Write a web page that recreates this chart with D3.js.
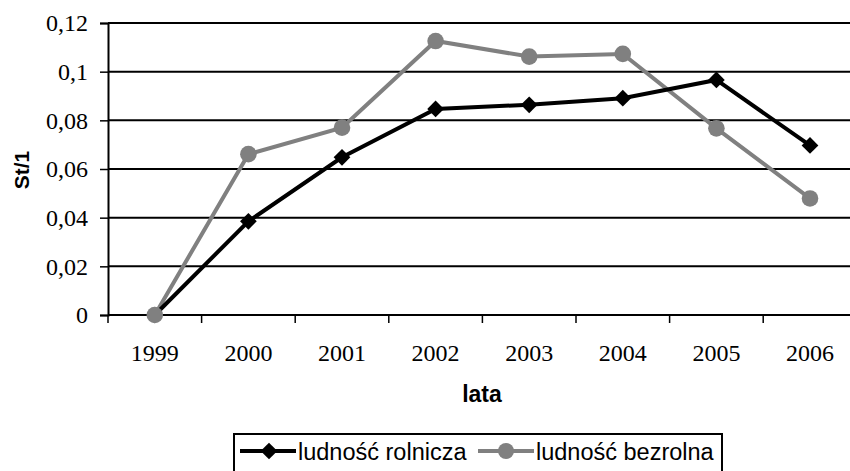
<html>
<head>
<meta charset="utf-8">
<script src="https://cdn.jsdelivr.net/npm/d3@7"></script>
<style>
body { margin: 0; background: white; }
.tick text { font-family: "Liberation Serif", "Times New Roman", serif; }
</style>
</head>
<body>
<script>
var years = ["1999","2000","2001","2002","2003","2004","2005","2006"];
var rolnicza = [0, 0.0385, 0.0648, 0.0847, 0.0864, 0.0891, 0.0966, 0.0697];
var bezrolna = [0, 0.0661, 0.0770, 0.1126, 0.1062, 0.1073, 0.0767, 0.0479];
var yTicks = [0, 0.02, 0.04, 0.06, 0.08, 0.1, 0.12];
var seriesNames = ["ludność rolnicza", "ludność bezrolna"];

var width = 850, height = 471;
var plotLeft = 108, plotTop = 23, plotBottom = 315;

var svg = d3.select("body").append("svg").attr("width", width).attr("height", height).style("background", "white");

var x = d3.scaleBand().domain(years).range([plotLeft, plotLeft + 8 * 93.6]);
var y = d3.scaleLinear().domain([0, 0.12]).range([plotBottom, plotTop]);

var fmt = function(d) { return String(d).replace(".", ","); };

// gridlines
svg.selectAll(".grid").data(yTicks).enter().append("line")
  .attr("x1", plotLeft).attr("x2", width)
  .attr("y1", function(d) { return y(d); }).attr("y2", function(d) { return y(d); })
  .attr("stroke", "#000").attr("stroke-width", 2);

// y axis
var yAxis = svg.append("g").attr("transform", "translate(" + plotLeft + ",0)")
  .call(d3.axisLeft(y).tickValues(yTicks).tickFormat(fmt).tickSize(8).tickPadding(12));
yAxis.attr("font-family", null);
yAxis.select(".domain").attr("stroke-width", 2);
yAxis.selectAll(".tick line").attr("stroke-width", 1.5);
yAxis.selectAll("text").style("font-family", "'Liberation Serif', 'Times New Roman', serif").attr("font-size", "24px").attr("fill", "#000");

// x axis
var xAxis = svg.append("g").attr("transform", "translate(0," + plotBottom + ")")
  .call(d3.axisBottom(x).tickSize(0).tickPadding(29));
xAxis.attr("font-family", null);
xAxis.select(".domain").remove();
xAxis.selectAll("text").style("font-family", "'Liberation Serif', 'Times New Roman', serif").attr("font-size", "24px").attr("fill", "#000");
svg.append("line").attr("x1", plotLeft).attr("x2", width).attr("y1", plotBottom).attr("y2", plotBottom)
  .attr("stroke", "#000").attr("stroke-width", 2);
svg.selectAll(".xtick").data(years.concat(["end"])).enter().append("line")
  .attr("x1", function(d, i) { return plotLeft + i * x.bandwidth(); })
  .attr("x2", function(d, i) { return plotLeft + i * x.bandwidth(); })
  .attr("y1", plotBottom).attr("y2", plotBottom + 8)
  .attr("stroke", "#000").attr("stroke-width", 1.5);

// axis titles
svg.append("text").attr("x", 482).attr("y", 402).attr("text-anchor", "middle")
  .attr("font-family", "Liberation Sans").attr("font-weight", "bold").attr("font-size", "23px").text("lata");
svg.append("text").attr("transform", "translate(29,170) rotate(-90)").attr("text-anchor", "middle")
  .attr("font-family", "Liberation Sans").attr("font-weight", "bold").attr("font-size", "21px").text("St/1");

var line = d3.line()
  .x(function(d, i) { return x(years[i]) + x.bandwidth() / 2; })
  .y(function(d) { return y(d); });

svg.append("path").datum(bezrolna).attr("d", line)
  .attr("fill", "none").attr("stroke", "#808080").attr("stroke-width", 4);
svg.append("path").datum(rolnicza).attr("d", line)
  .attr("fill", "none").attr("stroke", "#000").attr("stroke-width", 4);

var diamond = d3.symbol().type(d3.symbolSquare).size(140);

svg.selectAll(".dia").data(rolnicza).enter().append("path")
  .attr("d", diamond)
  .attr("transform", function(d, i) { return "translate(" + (x(years[i]) + x.bandwidth() / 2) + "," + y(d) + ") rotate(45)"; })
  .attr("fill", "#000");
svg.selectAll(".dot").data(bezrolna).enter().append("circle")
  .attr("cx", function(d, i) { return x(years[i]) + x.bandwidth() / 2; })
  .attr("cy", function(d) { return y(d); })
  .attr("r", 8.3).attr("fill", "#808080");

// legend
var lg = svg.append("g");
lg.append("rect").attr("x", 234).attr("y", 434).attr("width", 488).attr("height", 40)
  .attr("fill", "white").attr("stroke", "#000").attr("stroke-width", 2);
var items = [{ name: seriesNames[0], x: 240, color: "#000" }, { name: seriesNames[1], x: 478, color: "#808080" }];
items.forEach(function(it, i) {
  lg.append("line").attr("x1", it.x).attr("x2", it.x + 56).attr("y1", 451).attr("y2", 451)
    .attr("stroke", it.color).attr("stroke-width", 4);
  if (i === 0) {
    lg.append("path").attr("d", diamond).attr("transform", "translate(" + (it.x + 29) + ",451) rotate(45)").attr("fill", it.color);
  } else {
    lg.append("circle").attr("cx", it.x + 28).attr("cy", 451).attr("r", 8).attr("fill", it.color);
  }
  lg.append("text").attr("x", it.x + 58).attr("y", 460)
    .attr("font-family", "Liberation Sans").attr("font-size", "23.5px").text(it.name);
});
</script>
</body>
</html>
